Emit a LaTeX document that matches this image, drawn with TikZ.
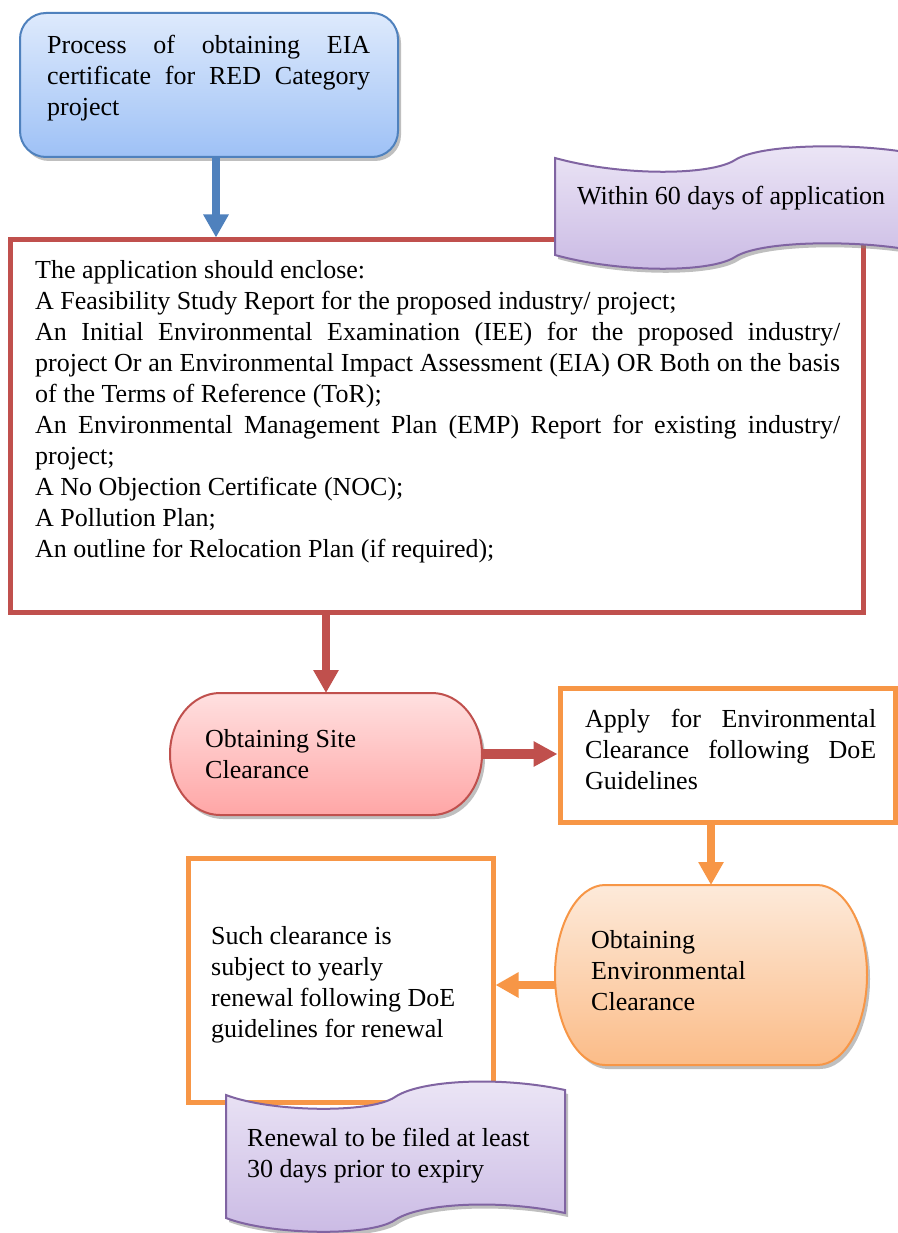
\documentclass[tikz,border=0pt]{standalone}
\usepackage{fontspec}
\setmainfont{Liberation Serif}
\usetikzlibrary{arrows.meta,shadows}
\definecolor{bluec}{RGB}{79,129,189}
\definecolor{bluetop}{RGB}{222,234,252}
\definecolor{bluebot}{RGB}{158,193,246}
\definecolor{redc}{RGB}{192,80,77}
\definecolor{pinktop}{RGB}{255,224,224}
\definecolor{pinkbot}{RGB}{255,166,166}
\definecolor{orangec}{RGB}{247,150,70}
\definecolor{orangetop}{RGB}{253,234,218}
\definecolor{orangebot}{RGB}{251,188,136}
\definecolor{purplec}{RGB}{128,100,162}
\definecolor{purpletop}{RGB}{236,230,246}
\definecolor{purplebot}{RGB}{202,186,228}
\newcommand{\jl}[1]{\makebox[\linewidth][s]{#1}}
\tikzset{
  x=1pt, y=1pt,
  shad/.style={drop shadow={shadow xshift=3pt, shadow yshift=-4pt, fill=black!50, opacity=0.5}},
  txt/.style={inner sep=0pt, anchor=base west, font=\fontsize{26}{31}\selectfont, text=black},
  holder/.style={inner sep=0pt, outer sep=0pt},
  arr/.style={line width=8pt, -{Triangle[width=24pt,length=23pt]}},
  harr/.style={line width=10pt, -{Triangle[width=24pt,length=24pt]}},
  frame/.style={line width=5pt, fill=white, inner sep=0pt},
}
\begin{document}
\begin{tikzpicture}
\useasboundingbox (0,0) rectangle (897,-1233);
\fill[white] (0,0) rectangle (897,-1233);

% top blue box
\node[holder, draw=bluec, line width=2pt, rounded corners=26pt, top color=bluetop, bottom color=bluebot, shad,
      minimum width=378pt, minimum height=144pt] (proc) at (209,-85) {};
\node[txt] (proct) at (47,-54) {\parbox[t]{323pt}{\jl{Process of obtaining EIA}\\\jl{certificate for RED Category}\\project}};

% red application box
\node[frame, draw=redc, minimum width=853pt, minimum height=372pt] (app) at (436.5,-426) {};
\draw[arr, bluec] ([xshift=7pt]proc.south) -- ([xshift=7pt]proc.south |- app.north);
\node[txt] (appt) at (35,-278) {\parbox[t]{805pt}{The application should enclose:\\
A Feasibility Study Report for the proposed industry/ project;\\
\jl{An Initial Environmental Examination (IEE) for the proposed industry/}\\
\jl{project Or an Environmental Impact Assessment (EIA) OR Both on the basis}\\
of the Terms of Reference (ToR);\\
\jl{An Environmental Management Plan (EMP) Report for existing industry/}\\
project;\\
A No Objection Certificate (NOC);\\
A Pollution Plan;\\
An outline for Relocation Plan (if required);}};

% wave 1
\path[draw=purplec, line width=2pt, top color=purpletop, bottom color=purplebot, shad]
  (555,-158) .. controls (620,-176) and (710,-176) .. (735,-160)
  .. controls (760,-144) and (850,-143) .. (905,-152) -- (905,-249)
  .. controls (850,-240) and (760,-241) .. (735,-257)
  .. controls (710,-273) and (620,-273) .. (555,-255) -- cycle;
\node[txt] (w1t) at (577,-205) {Within 60 days of application};

% site clearance terminator
\path[draw=redc, line width=2pt, top color=pinktop, bottom color=pinkbot, shad]
  (220,-693) -- (432,-693) arc[start angle=90, end angle=-90, x radius=50pt, y radius=61pt]
  -- (220,-815) arc[start angle=270, end angle=90, x radius=50pt, y radius=61pt] -- cycle;
\node[holder, minimum width=312pt, minimum height=122pt] (site) at (326,-754) {};
\node[txt] (sitet) at (205,-747) {\parbox[t]{260pt}{Obtaining Site\\Clearance}};
\draw[arr, redc] (site.north |- app.south) -- (site.north);

% apply box
\node[frame, draw=orangec, minimum width=335pt, minimum height=134pt] (apply) at (727.5,-755) {};
\node[txt] (applyt) at (585,-727) {\parbox[t]{291pt}{\jl{Apply for Environmental}\\\jl{Clearance following DoE}\\Guidelines}};
\draw[harr, redc] (site.east) -- (site.east -| apply.west);

% environmental clearance terminator
\path[draw=orangec, line width=2pt, top color=orangetop, bottom color=orangebot, shad]
  (605,-885) -- (817,-885) arc[start angle=90, end angle=-90, x radius=50pt, y radius=90pt]
  -- (605,-1065) arc[start angle=270, end angle=90, x radius=50pt, y radius=90pt] -- cycle;
\node[holder, minimum width=312pt, minimum height=180pt] (env) at (711,-975) {};
\node[txt] (envt) at (591,-948) {\parbox[t]{260pt}{Obtaining\\Environmental\\Clearance}};
\draw[arr, orangec] (env.north |- apply.south) -- (env.north);

% such clearance box
\node[frame, draw=orangec, minimum width=305pt, minimum height=244pt] (such) at (340.5,-980) {};
\node[txt] (sucht) at (211,-944) {\parbox[t]{280pt}{Such clearance is\\subject to yearly\\renewal following DoE\\guidelines for renewal}};
\draw[arr, orangec] ([yshift=-5pt]such.east -| env.west) -- ([yshift=-5pt]such.east);

% wave 2
\path[draw=purplec, line width=2pt, top color=purpletop, bottom color=purplebot, shad]
  (226,-1095) .. controls (270,-1112) and (370,-1114) .. (395,-1097)
  .. controls (420,-1080) and (500,-1076) .. (565,-1090) -- (565,-1213)
  .. controls (500,-1199) and (420,-1203) .. (395,-1220)
  .. controls (370,-1237) and (270,-1235) .. (226,-1218) -- cycle;
\node[txt] (w2t) at (247,-1146) {\parbox[t]{310pt}{Renewal to be filed at least\\30 days prior to expiry}};
\end{tikzpicture}
\end{document}
